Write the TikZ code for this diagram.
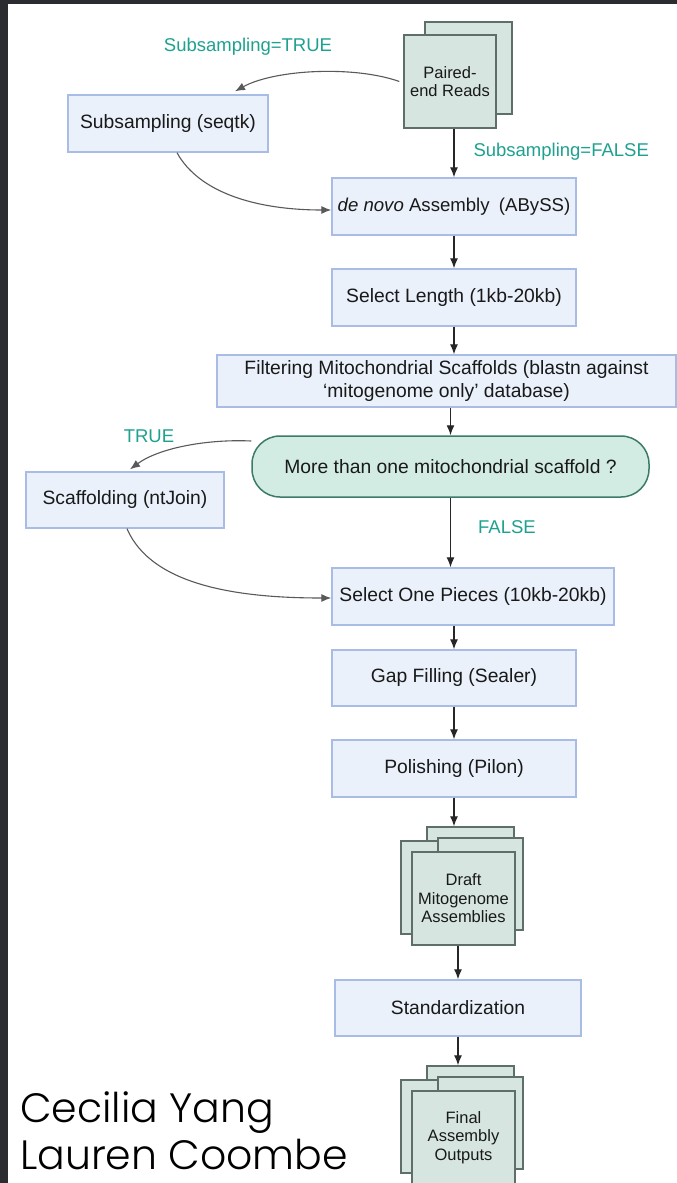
\documentclass[tikz,border=0pt]{standalone}
\usepackage{fontspec}
\usetikzlibrary{arrows.meta}
\setmainfont{Liberation Sans}
\IfFontExistsTF{Poppins Light}{\newfontfamily\authfont{Poppins Light}}{\newfontfamily\authfont{Poppins}}

\definecolor{boxfill}{HTML}{EAF1FB}
\definecolor{boxline}{HTML}{A9BCE6}
\definecolor{sheetfill}{HTML}{D6E5E0}
\definecolor{sheetline}{HTML}{5E6E69}
\definecolor{decfill}{HTML}{D3ECE3}
\definecolor{decline}{HTML}{3C7A69}
\definecolor{condtext}{HTML}{1FA190}
\definecolor{framegray}{HTML}{2A2C30}

\begin{document}
\begin{tikzpicture}[x=1pt,y=-1pt,
    stepbox/.style={draw=boxline,fill=boxfill,line width=1.4pt,inner sep=2pt,
      align=center,text=black!90,font=\fontsize{19.3}{23}\selectfont},
    sheet/.style={draw=sheetline,fill=sheetfill,line width=1.4pt,inner sep=1pt,
      align=center,text=black!90,font=\fontsize{16.5}{18.5}\selectfont},
    decision/.style={draw=decline,fill=decfill,line width=1.5pt,rounded corners=28pt,
      text=black!90,font=\fontsize{19.3}{23}\selectfont},
    cond/.style={text=condtext,font=\fontsize{18.5}{21}\selectfont},
    author/.style={anchor=base west,inner sep=0pt,font=\authfont\fontsize{41}{41}\selectfont},
    flow/.style={-{Latex[length=10pt,width=8pt]},line width=1.3pt,draw=black!85},
    curvy/.style={-{Latex[length=10pt,width=8pt]},line width=1.1pt,draw=black!65}]
      \useasboundingbox (0,0) rectangle (677,1183) ;
      \fill[white] (0,0) rectangle (677,1183) ;
      % dark frame of the slide
      \fill[framegray] (0,0) rectangle (8,1183) ;
      \fill[framegray] (0,0) rectangle (677,4) ;

      % input reads
      \node[sheet,minimum width=87pt,minimum height=92pt] (peback) at (468.5,68) {} ;
      \node[sheet,minimum width=92pt,minimum height=93pt] (pe) at (450,81.5) {Paired-\\end Reads} ;

      \node[cond] (lbltrue) at (248,47) {Subsampling=TRUE} ;
      \node[cond,anchor=west] (lblfalse) at (470,152) {Subsampling=FALSE} ;

      \node[stepbox,minimum width=200pt,minimum height=57pt] (sub) at (168,123.5) {Subsampling (seqtk)} ;
      \node[stepbox,minimum width=244pt,minimum height=57pt,inner xsep=0pt,
        font=\fontsize{18.6}{22}\selectfont] (denovo) at (454,206.5) %
      {\textit{de novo} Assembly\enspace(ABySS)} ;
      \node[stepbox,minimum width=244pt,minimum height=57pt] (sel) at (454,297.5) {Select Length (1kb-20kb)} ;
      \node[stepbox,minimum width=459pt,minimum height=52pt] (filt) at (446.5,381) %
      {Filtering Mitochondrial Scaffolds (blastn against\\`mitogenome only' database)} ;
      \node[decision,minimum width=397pt,minimum height=61pt] (dec) at (450.5,466.5) %
      {More than one mitochondrial scaffold ?} ;

      \node[cond] (lbltrue2) at (149,436) {TRUE} ;
      \node[cond] (lblfalse2) at (507,527) {FALSE} ;

      \node[stepbox,minimum width=198pt,minimum height=56pt] (scaf) at (125,500) {Scaffolding (ntJoin)} ;
      \node[stepbox,minimum width=282pt,minimum height=57pt] (one) at (473,596.5) {Select One Pieces (10kb-20kb)} ;
      \node[stepbox,minimum width=244pt,minimum height=56pt] (gap) at (454,678) {Gap Filling (Sealer)} ;
      \node[stepbox,minimum width=244pt,minimum height=57pt] (pol) at (454,768.5) {Polishing (Pilon)} ;

      % draft assemblies (stack of sheets)
      \node[sheet,minimum width=87pt,minimum height=88pt] (dA) at (470.5,871) {} ;
      \node[sheet,minimum width=89pt,minimum height=93pt] (dB) at (445.5,887.5) {} ;
      \node[sheet,minimum width=85pt,minimum height=92pt] (dC) at (480.5,884) {} ;
      \node[sheet,minimum width=103pt,minimum height=93pt] (dD) at (463.5,898.5) %
      {Draft\\Mitogenome\\Assemblies} ;

      \node[stepbox,minimum width=246pt,minimum height=56pt] (std) at (458,1008) {Standardization} ;

      % final outputs (stack of sheets)
      \node[sheet,minimum width=87pt,minimum height=88pt] (fA) at (470.5,1110) {} ;
      \node[sheet,minimum width=89pt,minimum height=93pt] (fB) at (445.5,1126.5) {} ;
      \node[sheet,minimum width=85pt,minimum height=92pt] (fC) at (480.5,1123) {} ;
      \node[sheet,minimum width=103pt,minimum height=93pt] (fD) at (463.5,1137.5) %
      {Final\\Assembly\\Outputs} ;

      \node[author] (auth1) at (20,1122) {Cecilia Yang} ;
      \node[author] (auth2) at (20,1169) {Lauren Coombe} ;

      % straight flow
      \draw[flow] (denovo.north |- pe.south) -- (denovo.north) ;
      \draw[flow] (denovo.south) -- (sel.north) ;
      \draw[flow] (sel.south) -- (sel.south |- filt.north) ;
      \draw[flow] (dec.north |- filt.south) -- (dec.north) ;
      \draw[flow] (dec.south) -- (dec.south |- one.north) ;
      \draw[flow] (gap.north |- one.south) -- (gap.north) ;
      \draw[flow] (gap.south) -- (pol.north) ;
      \draw[flow] (pol.south) -- (pol.south |- dA.north) ;
      \draw[flow] (std.north |- dD.south) -- (std.north) ;
      \draw[flow] (std.south) -- (std.south |- fA.north) ;

      % side branches
      \draw[curvy] ([xshift=-4pt]pe.west) .. controls +(-45,-16) and +(40,-22) .. ([xshift=67pt,yshift=3pt]sub.north) ;
      \draw[curvy] ([xshift=9pt]sub.south) .. controls +(22,40) and +(-75,0) .. ([yshift=-3.5pt]denovo.west) ;
      \draw[curvy] ([yshift=25.5pt]dec.west) .. controls +(-42,-2) and +(30,-22) .. ([xshift=5pt,yshift=2pt]scaf.north) ;
      \draw[curvy] ([xshift=2pt]scaf.south) .. controls +(25,58) and +(-90,0) .. ([yshift=-1.5pt]one.west) ;
    \end{tikzpicture}
\end{document}
